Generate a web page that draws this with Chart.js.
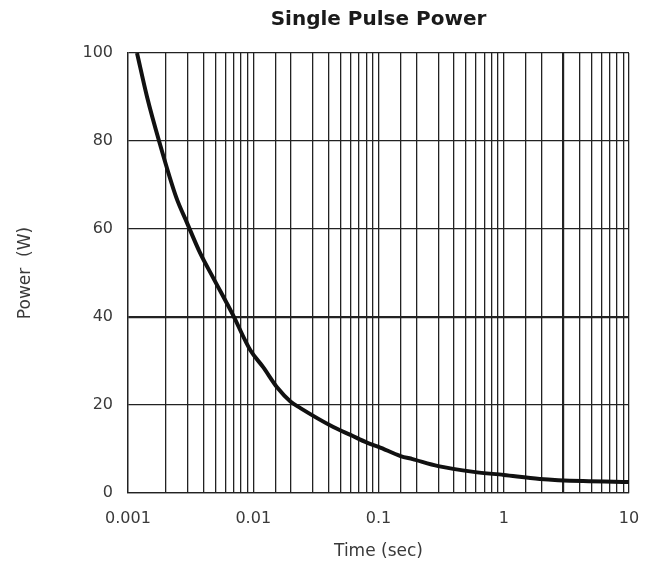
<!DOCTYPE html>
<html>
<head>
<meta charset="utf-8">
<title>Single Pulse Power</title>
<script src="https://cdn.jsdelivr.net/npm/chart.js@4/dist/chart.umd.min.js"></script>
<style>
  html, body { margin: 0; padding: 0; background: #fff; }
  #wrap { width: 652px; height: 571px; }
</style>
</head>
<body>
<div id="wrap"><canvas id="pulseChart" width="652" height="571"></canvas></div>
<script>
// pulse duration (s) and allowed peak power (W)
const timeSec = [0.00118, 0.00142, 0.00177, 0.00242, 0.00296, 0.00377, 0.00479, 0.00685,
    0.00946, 0.012, 0.0156, 0.0198, 0.0238, 0.0436, 0.0597, 0.0817, 0.1, 0.15, 0.187,
    0.3, 0.575, 1, 1.94, 4.3, 10];
const powerW = [100, 90, 80, 67.3, 61.4, 54.5, 48.9, 40.6,
    32.5, 28.6, 23.9, 20.8, 19.3, 15, 13.2, 11.4, 10.5, 8.4, 7.7,
    6.1, 4.8, 4.1, 3.2, 2.7, 2.5];
const decadeLabels = ["0.001", "0.01", "0.1", "1", "10"];
const powerTicks = [0, 20, 40, 60, 80, 100];
const chartTitle = "Single Pulse Power";

const points = timeSec.map((t, i) => ({ x: t, y: powerW[i] }));

function isDecade(v) {
    const e = Math.log10(v);
    return Math.abs(e - Math.round(e)) < 1e-6;
}

// title centred over the plot area rather than the whole canvas
const plotTitle = {
    id: "plotTitle",
    afterDraw(chart) {
        const { ctx, chartArea } = chart;
        ctx.save();
        ctx.font = "bold 20px 'DejaVu Sans'";
        ctx.fillStyle = "#1a1a1a";
        ctx.textAlign = "center";
        ctx.textBaseline = "middle";
        ctx.fillText(chartTitle, (chartArea.left + chartArea.right) / 2, 20);
        ctx.restore();
    }
};

const gridColor = "#222";
const textColor = "#3a3a3a";

new Chart(document.getElementById("pulseChart").getContext("2d"), {
    type: "line",
    data: {
        datasets: [{
            label: "Power",
            data: points,
            borderColor: "#111",
            borderWidth: 4,
            pointRadius: 0,
            fill: false,
            cubicInterpolationMode: "monotone"
        }]
    },
    options: {
        responsive: false,
        animation: false,
        devicePixelRatio: 1,
        layout: { padding: { left: 0, right: 23, top: 53, bottom: 0 } },
        plugins: {
            legend: { display: false },
            tooltip: { enabled: false },
            title: { display: false }
        },
        scales: {
            x: {
                type: "logarithmic",
                min: 0.001,
                max: 10,
                border: { display: true, color: gridColor, width: 1.3 },
                grid: {
                    color: gridColor,
                    drawTicks: false,
                    lineWidth: ctx => (ctx.tick && Math.abs(ctx.tick.value - 3) < 1e-9) ? 2.2 : 1.3
                },
                ticks: {
                    autoSkip: false,
                    maxRotation: 0,
                    padding: 16,
                    color: textColor,
                    font: { family: "DejaVu Sans", size: 16 },
                    callback: function (value) {
                        if (!isDecade(value)) return "";
                        const idx = Math.round(Math.log10(value)) + 3;
                        return decadeLabels[idx];
                    }
                },
                title: {
                    display: true,
                    text: "Time (sec)",
                    color: textColor,
                    font: { family: "DejaVu Sans", size: 17 },
                    padding: { top: 0, bottom: 9 }
                },
                afterFit: scale => {
                    scale.height = 78;
                    scale.paddingLeft = 0;
                    scale.paddingRight = 0;
                }
            },
            y: {
                min: 0,
                max: 100,
                afterBuildTicks: scale => {
                    scale.ticks = powerTicks.map(v => ({ value: v }));
                },
                border: { display: true, color: gridColor, width: 1.3 },
                grid: {
                    color: gridColor,
                    drawTicks: false,
                    lineWidth: ctx => (ctx.tick && ctx.tick.value === 40) ? 2.2 : 1.3
                },
                ticks: {
                    padding: 15,
                    color: textColor,
                    font: { family: "DejaVu Sans", size: 16 }
                },
                title: {
                    display: true,
                    text: "Power  (W)",
                    color: textColor,
                    font: { family: "DejaVu Sans", size: 17 },
                    padding: { top: 15, bottom: 0 }
                },
                afterFit: scale => {
                    scale.width = 128;
                    scale.paddingTop = 0;
                    scale.paddingBottom = 0;
                }
            }
        }
    },
    plugins: [plotTitle]
});
</script>
</body>
</html>
